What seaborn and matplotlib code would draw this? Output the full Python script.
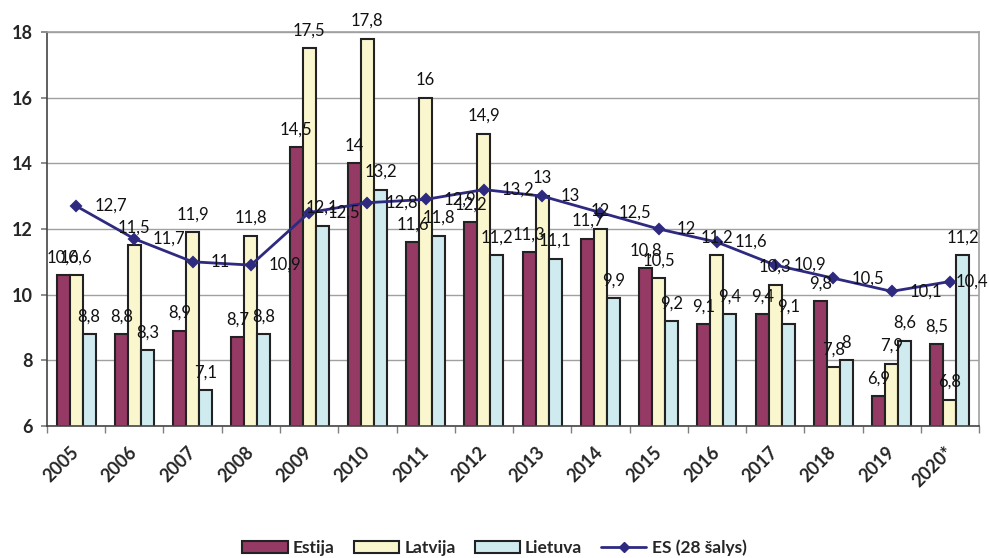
import numpy as np
import pandas as pd
import matplotlib
matplotlib.use("Agg")
import matplotlib.pyplot as plt
import seaborn as sns
from matplotlib.patches import Patch
from matplotlib.lines import Line2D
from matplotlib.ticker import FixedLocator

# Data
years = ["2005", "2006", "2007", "2008", "2009", "2010", "2011", "2012",
         "2013", "2014", "2015", "2016", "2017", "2018", "2019", "2020*"]
estija = [10.6, 8.8, 8.9, 8.7, 14.5, 14, 11.6, 12.2, 11.3, 11.7, 10.8, 9.1, 9.4, 9.8, 6.9, 8.5]
latvija = [10.6, 11.5, 11.9, 11.8, 17.5, 17.8, 16, 14.9, 13, 12, 10.5, 11.2, 10.3, 7.8, 7.9, 6.8]
lietuva = [8.8, 8.3, 7.1, 8.8, 12.1, 13.2, 11.8, 11.2, 11.1, 9.9, 9.2, 9.4, 9.1, 8, 8.6, 11.2]
es28 = [12.7, 11.7, 11, 10.9, 12.5, 12.8, 12.9, 13.2, 13, 12.5, 12, 11.6, 10.9, 10.5, 10.1, 10.4]

countries = ["Estija", "Latvija", "Lietuva"]
line_label = "ES (28 šalys)"
bar_colors = ["#953A64", "#FAF7CF", "#CFEBEF"]
line_color = "#2E2A80"


def fmt(v):
    # decimal comma like the original
    return f"{v:g}".replace(".", ",")


sns.set_theme(style="white")
plt.rcParams["font.family"] = ["Lato", "DejaVu Sans"]

df = pd.DataFrame({
    "year": years * 3,
    "country": np.repeat(countries, len(years)),
    "value": estija + latvija + lietuva,
})

fig, ax = plt.subplots(figsize=(9.89, 5.58), dpi=100)
fig.subplots_adjust(left=0.0475, right=0.99, top=0.9427, bottom=0.2366)

sns.barplot(data=df, x="year", y="value", hue="country", order=years,
            hue_order=countries, palette=bar_colors, width=0.67, gap=0,
            edgecolor="#222222", linewidth=1.5, saturation=1,
            errorbar=None, legend=False, ax=ax)

for container, vals in zip(ax.containers, [estija, latvija, lietuva]):
    ax.bar_label(container, labels=[fmt(v) for v in vals], padding=7,
                 fontsize=12, color="#111111", zorder=6)

sns.pointplot(x=years, y=es28, order=years, color=line_color, marker="D",
              markersize=5, linewidth=2, errorbar=None, ax=ax)

for i, v in enumerate(es28):
    # last label is pulled in so it stays inside the chart, as in the original
    dx = 4 if i == len(es28) - 1 else 13
    ax.annotate(fmt(v), (i, v), xytext=(dx, 0), textcoords="offset points",
                ha="left", va="center", fontsize=12, color="#111111",
                zorder=6, annotation_clip=False)

ax.set_ylim(6, 18)
ax.set_yticks(np.arange(6, 19, 2))
ax.set_xlim(-0.5, len(years) - 0.5)
ax.set_xlabel("")
ax.set_ylabel("")
ax.yaxis.grid(True, color="#A0A0A0", linewidth=1)
ax.set_axisbelow(True)

ax.xaxis.set_minor_locator(FixedLocator(np.arange(-0.5, len(years), 1)))
ax.tick_params(axis="x", which="major", length=0, pad=17)
ax.tick_params(axis="x", which="minor", bottom=True, length=5, color="#808080")
ax.tick_params(axis="y", left=True, length=4, color="#808080", pad=6)
for lab in ax.get_xticklabels():
    lab.set_rotation(45)
    lab.set_ha("right")
    lab.set_va("center")
    lab.set_rotation_mode("anchor")
    lab.set_fontweight("bold")
    lab.set_fontsize(13)
for lab in ax.get_yticklabels():
    lab.set_fontweight("bold")
    lab.set_fontsize(13)

ax.spines["left"].set_color("#444444")
ax.spines["bottom"].set_color("#444444")
ax.spines["right"].set_color("#A0A0A0")
ax.spines["top"].set_color("#A0A0A0")
for s in ax.spines.values():
    s.set_linewidth(1.2)

handles = [Patch(facecolor=c, edgecolor="#222222", linewidth=1.5) for c in bar_colors]
handles.append(Line2D([], [], color=line_color, marker="D", markersize=5, linewidth=2))
fig.legend(handles, countries + [line_label], loc="center", ncol=4,
           bbox_to_anchor=(0.5, 0.018), frameon=False, handlelength=2.6,
           handleheight=0.7, handletextpad=0.3, columnspacing=1.1,
           prop={"weight": "bold", "size": 12.5})

fig.savefig("out.png", dpi=100)
